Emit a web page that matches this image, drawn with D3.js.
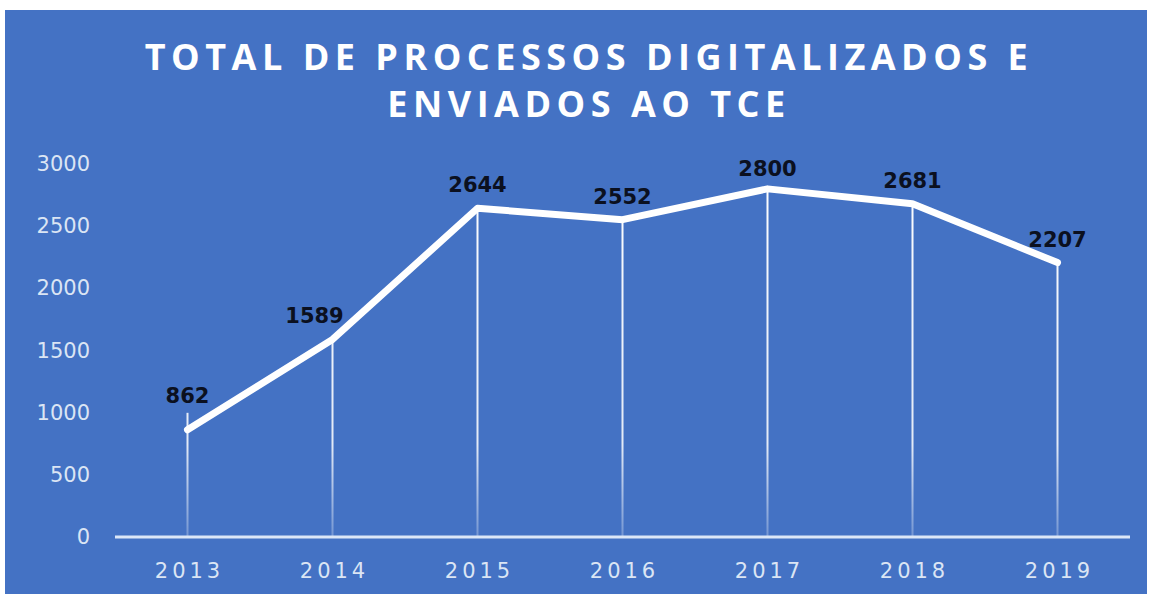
<!DOCTYPE html>
<html>
  <head>
    <meta charset="utf-8">
    <script src="https://d3js.org/d3.v7.min.js"></script>
    <title>Total de processos digitalizados</title>
    <style>
      body { margin: 0; background: #fff; }
      .tick-y { font-family: 'DejaVu Sans', sans-serif; font-size: 21px; fill: #dbe5f4; }
      .tick-x { font-family: 'DejaVu Sans', sans-serif; font-size: 21px; fill: #dbe5f4; letter-spacing: 4px; }
      .value { font-family: 'DejaVu Sans', sans-serif; font-size: 21px; font-weight: bold; fill: #0b1020; }
      .title { font-family: 'Open Sans', sans-serif; font-size: 36px; font-weight: bold; fill: #fff; letter-spacing: 5.5px; }
    </style>
  </head>
  <body>
    <svg width="1152" height="594"></svg>
    <script>
      const years = ['2013', '2014', '2015', '2016', '2017', '2018', '2019'];
      const totals = [862, 1589, 2644, 2552, 2800, 2681, 2207];
      const yTicks = [0, 500, 1000, 1500, 2000, 2500, 3000];
      const titleLines = ['TOTAL DE PROCESSOS DIGITALIZADOS E', 'ENVIADOS AO TCE'];

      const svg = d3.select('svg');

      svg.append('rect')
          .attr('x', 5).attr('y', 10)
          .attr('width', 1142).attr('height', 584)
          .attr('fill', '#4472c4');

      const x = d3.scaleBand().domain(years).range([115, 1130]);
      const y = d3.scaleLinear().domain([0, 3000]).range([537, 164]);
      const cx = d => x(d) + x.bandwidth() / 2;

      // titulo
      svg.append('g').selectAll('text').data(titleLines)
        .enter().append('text')
          .attr('class', 'title')
          .attr('x', 589)
          .attr('y', (d, i) => 70 + i * 47)
          .attr('text-anchor', 'middle')
          .text(d => d);

      // eixo y (so rotulos)
      svg.append('g').selectAll('text').data(yTicks)
        .enter().append('text')
          .attr('class', 'tick-y')
          .attr('x', 90)
          .attr('y', d => y(d) + 7)
          .attr('text-anchor', 'end')
          .text(d => d);

      // linhas de queda com degrade
      const grad = svg.append('defs').append('linearGradient')
          .attr('id', 'drop')
          .attr('gradientUnits', 'userSpaceOnUse')
          .attr('x1', 0).attr('x2', 0)
          .attr('y1', y(3000)).attr('y2', y(0));
      grad.append('stop').attr('offset', '0').attr('stop-color', '#fff').attr('stop-opacity', 1);
      grad.append('stop').attr('offset', '0.75').attr('stop-color', '#fff').attr('stop-opacity', 0.85);
      grad.append('stop').attr('offset', '1').attr('stop-color', '#fff').attr('stop-opacity', 0.25);

      // a de 2013 passa um pouco acima do ponto no original
      svg.append('g').selectAll('line').data(years)
        .enter().append('line')
          .attr('x1', d => cx(d)).attr('x2', d => cx(d))
          .attr('y1', (d, i) => y(totals[i]) - (i === 0 ? 17 : 0))
          .attr('y2', y(0))
          .attr('stroke', 'url(#drop)')
          .attr('stroke-width', 2);

      // eixo x
      svg.append('line')
          .attr('x1', 115).attr('x2', 1130)
          .attr('y1', y(0)).attr('y2', y(0))
          .attr('stroke', '#dce7f7')
          .attr('stroke-width', 3);

      svg.append('g').selectAll('text').data(years)
        .enter().append('text')
          .attr('class', 'tick-x')
          .attr('x', d => cx(d) + 2)
          .attr('y', 578)
          .attr('text-anchor', 'middle')
          .text(d => d);

      // linha
      const line = d3.line()
        .x((d, i) => cx(years[i]))
        .y(d => y(d));

      svg.append('path')
          .datum(totals)
          .attr('d', line)
          .attr('fill', 'none')
          .attr('stroke', '#fff')
          .attr('stroke-width', 7)
          .attr('stroke-linejoin', 'round')
          .attr('stroke-linecap', 'round');

      // rotulos de valor, com os pequenos desvios do original
      const lift = i => i === 0 ? 27 : i === 4 ? 13 : 16;
      svg.append('g').selectAll('text').data(totals)
        .enter().append('text')
          .attr('class', 'value')
          .attr('x', (d, i) => cx(years[i]) - (i === 1 ? 18 : 0))
          .attr('y', (d, i) => y(d) - lift(i))
          .attr('text-anchor', 'middle')
          .text(d => d);
    </script>
  </body>
</html>
